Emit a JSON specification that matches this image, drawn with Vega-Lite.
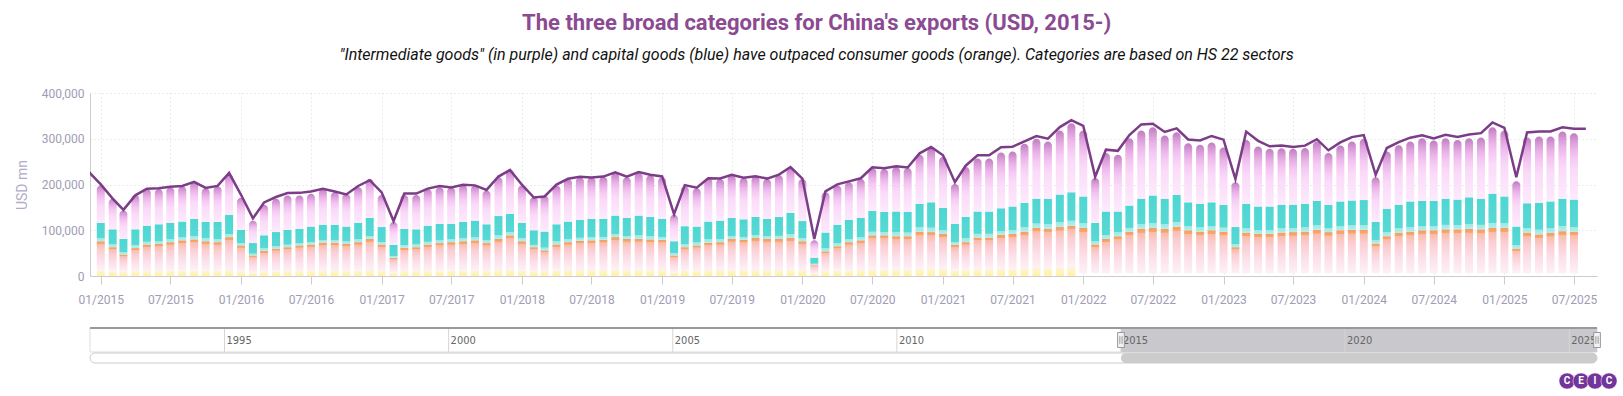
{
"$schema":"https://vega.github.io/schema/vega-lite/v6.json",
"padding":{"left":15,"top":12,"right":0,"bottom":0},
"bounds":"flush",
"spacing":52,
"title":{"text":"The three broad categories for China's exports (USD, 2015-)","subtitle":"\"Intermediate goods\" (in purple) and capital goods (blue) have outpaced consumer goods (orange). Categories are based on HS 22 sectors","anchor":"middle","font":"Roboto","fontSize":22,"fontWeight":"bold","color":"#8b4a92","subtitleFont":"Roboto","subtitleFontSize":16,"subtitleFontStyle":"italic","subtitleColor":"#111111","subtitlePadding":12,"offset":23},
"config":{"font":"Roboto","view":{"stroke":null}},
"datasets":{
"bars":[
{"d":"2015-01-01","other":0,"primary":12000,"consumer":64000,"capital":40000,"intermediate":82000},
{"d":"2015-02-01","other":0,"primary":10000,"consumer":53000,"capital":39000,"intermediate":67000},
{"d":"2015-03-01","other":0,"primary":9000,"consumer":38000,"capital":34000,"intermediate":62000},
{"d":"2015-04-01","other":0,"primary":11000,"consumer":50000,"capital":41000,"intermediate":75000},
{"d":"2015-05-01","other":0,"primary":11000,"consumer":58000,"capital":41000,"intermediate":80000},
{"d":"2015-06-01","other":0,"primary":11000,"consumer":59000,"capital":43000,"intermediate":77000},
{"d":"2015-07-01","other":0,"primary":12000,"consumer":62000,"capital":42000,"intermediate":78000},
{"d":"2015-08-01","other":0,"primary":12000,"consumer":66000,"capital":41000,"intermediate":77000},
{"d":"2015-09-01","other":0,"primary":12000,"consumer":68000,"capital":45000,"intermediate":80000},
{"d":"2015-10-01","other":0,"primary":12000,"consumer":64000,"capital":42000,"intermediate":74000},
{"d":"2015-11-01","other":0,"primary":12000,"consumer":62000,"capital":44000,"intermediate":78000},
{"d":"2015-12-01","other":0,"primary":13000,"consumer":72000,"capital":49000,"intermediate":89000},
{"d":"2016-01-01","other":0,"primary":10000,"consumer":57000,"capital":34000,"intermediate":70000},
{"d":"2016-02-01","other":0,"primary":7000,"consumer":38000,"capital":27000,"intermediate":49000},
{"d":"2016-03-01","other":0,"primary":9000,"consumer":46000,"capital":34000,"intermediate":67000},
{"d":"2016-04-01","other":0,"primary":10000,"consumer":50000,"capital":36000,"intermediate":73000},
{"d":"2016-05-01","other":0,"primary":11000,"consumer":52000,"capital":38000,"intermediate":75000},
{"d":"2016-06-01","other":0,"primary":11000,"consumer":56000,"capital":36000,"intermediate":73000},
{"d":"2016-07-01","other":0,"primary":11000,"consumer":58000,"capital":39000,"intermediate":72000},
{"d":"2016-08-01","other":0,"primary":11000,"consumer":62000,"capital":39000,"intermediate":78000},
{"d":"2016-09-01","other":0,"primary":11000,"consumer":62000,"capital":39000,"intermediate":71000},
{"d":"2016-10-01","other":0,"primary":11000,"consumer":59000,"capital":38000,"intermediate":72000},
{"d":"2016-11-01","other":0,"primary":12000,"consumer":62000,"capital":42000,"intermediate":78000},
{"d":"2016-12-01","other":0,"primary":13000,"consumer":68000,"capital":46000,"intermediate":85000},
{"d":"2017-01-01","other":0,"primary":11000,"consumer":58000,"capital":38000,"intermediate":70000},
{"d":"2017-02-01","other":0,"primary":7000,"consumer":33000,"capital":28000,"intermediate":50000},
{"d":"2017-03-01","other":0,"primary":11000,"consumer":51000,"capital":41000,"intermediate":74000},
{"d":"2017-04-01","other":0,"primary":11000,"consumer":52000,"capital":39000,"intermediate":75000},
{"d":"2017-05-01","other":0,"primary":11000,"consumer":58000,"capital":41000,"intermediate":80000},
{"d":"2017-06-01","other":0,"primary":12000,"consumer":60000,"capital":42000,"intermediate":80000},
{"d":"2017-07-01","other":0,"primary":12000,"consumer":62000,"capital":40000,"intermediate":80000},
{"d":"2017-08-01","other":0,"primary":12000,"consumer":64000,"capital":42000,"intermediate":81000},
{"d":"2017-09-01","other":0,"primary":12000,"consumer":66000,"capital":43000,"intermediate":77000},
{"d":"2017-10-01","other":0,"primary":11000,"consumer":61000,"capital":41000,"intermediate":74000},
{"d":"2017-11-01","other":0,"primary":13000,"consumer":68000,"capital":50000,"intermediate":85000},
{"d":"2017-12-01","other":0,"primary":14000,"consumer":75000,"capital":47000,"intermediate":96000},
{"d":"2018-01-01","other":0,"primary":12000,"consumer":64000,"capital":40000,"intermediate":82000},
{"d":"2018-02-01","other":0,"primary":10000,"consumer":53000,"capital":37000,"intermediate":72000},
{"d":"2018-03-01","other":0,"primary":11000,"consumer":45000,"capital":41000,"intermediate":79000},
{"d":"2018-04-01","other":0,"primary":12000,"consumer":57000,"capital":44000,"intermediate":85000},
{"d":"2018-05-01","other":0,"primary":13000,"consumer":61000,"capital":45000,"intermediate":93000},
{"d":"2018-06-01","other":0,"primary":13000,"consumer":64000,"capital":46000,"intermediate":93000},
{"d":"2018-07-01","other":0,"primary":13000,"consumer":65000,"capital":47000,"intermediate":91000},
{"d":"2018-08-01","other":0,"primary":13000,"consumer":66000,"capital":46000,"intermediate":92000},
{"d":"2018-09-01","other":0,"primary":14000,"consumer":71000,"capital":47000,"intermediate":93000},
{"d":"2018-10-01","other":0,"primary":13000,"consumer":68000,"capital":46000,"intermediate":89000},
{"d":"2018-11-01","other":0,"primary":14000,"consumer":67000,"capital":51000,"intermediate":93000},
{"d":"2018-12-01","other":0,"primary":13000,"consumer":67000,"capital":49000,"intermediate":91000},
{"d":"2019-01-01","other":0,"primary":13000,"consumer":66000,"capital":46000,"intermediate":91000},
{"d":"2019-02-01","other":0,"primary":8000,"consumer":37000,"capital":31000,"intermediate":58000},
{"d":"2019-03-01","other":0,"primary":12000,"consumer":51000,"capital":46000,"intermediate":87000},
{"d":"2019-04-01","other":0,"primary":12000,"consumer":55000,"capital":41000,"intermediate":84000},
{"d":"2019-05-01","other":0,"primary":13000,"consumer":60000,"capital":46000,"intermediate":95000},
{"d":"2019-06-01","other":0,"primary":13000,"consumer":61000,"capital":47000,"intermediate":91000},
{"d":"2019-07-01","other":0,"primary":13000,"consumer":68000,"capital":46000,"intermediate":93000},
{"d":"2019-08-01","other":0,"primary":13000,"consumer":66000,"capital":45000,"intermediate":90000},
{"d":"2019-09-01","other":0,"primary":13000,"consumer":70000,"capital":46000,"intermediate":89000},
{"d":"2019-10-01","other":0,"primary":13000,"consumer":68000,"capital":44000,"intermediate":87000},
{"d":"2019-11-01","other":0,"primary":13000,"consumer":68000,"capital":48000,"intermediate":91000},
{"d":"2019-12-01","other":0,"primary":14000,"consumer":69000,"capital":55000,"intermediate":100000},
{"d":"2020-01-01","other":0,"primary":13000,"consumer":63000,"capital":44000,"intermediate":92000},
{"d":"2020-02-01","other":0,"primary":5000,"consumer":20000,"capital":15000,"intermediate":38000},
{"d":"2020-03-01","other":0,"primary":11000,"consumer":43000,"capital":41000,"intermediate":88000},
{"d":"2020-04-01","other":0,"primary":12000,"consumer":53000,"capital":47000,"intermediate":86000},
{"d":"2020-05-01","other":0,"primary":12000,"consumer":62000,"capital":49000,"intermediate":82000},
{"d":"2020-06-01","other":0,"primary":13000,"consumer":65000,"capital":49000,"intermediate":85000},
{"d":"2020-07-01","other":0,"primary":14000,"consumer":75000,"capital":53000,"intermediate":94000},
{"d":"2020-08-01","other":0,"primary":14000,"consumer":75000,"capital":51000,"intermediate":94000},
{"d":"2020-09-01","other":0,"primary":14000,"consumer":73000,"capital":54000,"intermediate":97000},
{"d":"2020-10-01","other":0,"primary":14000,"consumer":73000,"capital":53000,"intermediate":96000},
{"d":"2020-11-01","other":0,"primary":16000,"consumer":81000,"capital":61000,"intermediate":107000},
{"d":"2020-12-01","other":0,"primary":17000,"consumer":79000,"capital":65000,"intermediate":117000},
{"d":"2021-01-01","other":0,"primary":16000,"consumer":76000,"capital":57000,"intermediate":111000},
{"d":"2021-02-01","other":0,"primary":12000,"consumer":56000,"capital":46000,"intermediate":87000},
{"d":"2021-03-01","other":0,"primary":14000,"consumer":60000,"capital":55000,"intermediate":109000},
{"d":"2021-04-01","other":0,"primary":15000,"consumer":69000,"capital":57000,"intermediate":116000},
{"d":"2021-05-01","other":0,"primary":15000,"consumer":69000,"capital":57000,"intermediate":116000},
{"d":"2021-06-01","other":0,"primary":16000,"consumer":74000,"capital":58000,"intermediate":122000},
{"d":"2021-07-01","other":0,"primary":16000,"consumer":76000,"capital":60000,"intermediate":120000},
{"d":"2021-08-01","other":0,"primary":17000,"consumer":80000,"capital":63000,"intermediate":129000},
{"d":"2021-09-01","other":0,"primary":18000,"consumer":87000,"capital":64000,"intermediate":131000},
{"d":"2021-10-01","other":0,"primary":18000,"consumer":85000,"capital":66000,"intermediate":125000},
{"d":"2021-11-01","other":0,"primary":19000,"consumer":88000,"capital":71000,"intermediate":140000},
{"d":"2021-12-01","other":0,"primary":20000,"consumer":90000,"capital":73000,"intermediate":151000},
{"d":"2022-01-01","other":6000,"primary":0,"consumer":99000,"capital":69000,"intermediate":144000},
{"d":"2022-02-01","other":6000,"primary":0,"consumer":63000,"capital":47000,"intermediate":98000},
{"d":"2022-03-01","other":6000,"primary":0,"consumer":75000,"capital":60000,"intermediate":128000},
{"d":"2022-04-01","other":6000,"primary":0,"consumer":81000,"capital":54000,"intermediate":124000},
{"d":"2022-05-01","other":6000,"primary":0,"consumer":91000,"capital":57000,"intermediate":147000},
{"d":"2022-06-01","other":6000,"primary":0,"consumer":97000,"capital":66000,"intermediate":149000},
{"d":"2022-07-01","other":6000,"primary":0,"consumer":99000,"capital":71000,"intermediate":149000},
{"d":"2022-08-01","other":6000,"primary":0,"consumer":97000,"capital":66000,"intermediate":138000},
{"d":"2022-09-01","other":6000,"primary":0,"consumer":102000,"capital":69000,"intermediate":137000},
{"d":"2022-10-01","other":6000,"primary":0,"consumer":94000,"capital":61000,"intermediate":129000},
{"d":"2022-11-01","other":6000,"primary":0,"consumer":91000,"capital":61000,"intermediate":129000},
{"d":"2022-12-01","other":6000,"primary":0,"consumer":94000,"capital":61000,"intermediate":131000},
{"d":"2023-01-01","other":6000,"primary":0,"consumer":91000,"capital":59000,"intermediate":125000},
{"d":"2023-02-01","other":6000,"primary":0,"consumer":57000,"capital":44000,"intermediate":98000},
{"d":"2023-03-01","other":6000,"primary":0,"consumer":89000,"capital":63000,"intermediate":139000},
{"d":"2023-04-01","other":6000,"primary":0,"consumer":86000,"capital":60000,"intermediate":131000},
{"d":"2023-05-01","other":6000,"primary":0,"consumer":86000,"capital":60000,"intermediate":126000},
{"d":"2023-06-01","other":6000,"primary":0,"consumer":89000,"capital":61000,"intermediate":123000},
{"d":"2023-07-01","other":6000,"primary":0,"consumer":90000,"capital":60000,"intermediate":122000},
{"d":"2023-08-01","other":6000,"primary":0,"consumer":91000,"capital":61000,"intermediate":122000},
{"d":"2023-09-01","other":6000,"primary":0,"consumer":95000,"capital":63000,"intermediate":130000},
{"d":"2023-10-01","other":6000,"primary":0,"consumer":90000,"capital":60000,"intermediate":113000},
{"d":"2023-11-01","other":6000,"primary":0,"consumer":94000,"capital":63000,"intermediate":122000},
{"d":"2023-12-01","other":6000,"primary":0,"consumer":95000,"capital":64000,"intermediate":129000},
{"d":"2024-01-01","other":6000,"primary":0,"consumer":95000,"capital":65000,"intermediate":134000},
{"d":"2024-02-01","other":6000,"primary":0,"consumer":65000,"capital":47000,"intermediate":98000},
{"d":"2024-03-01","other":6000,"primary":0,"consumer":81000,"capital":60000,"intermediate":125000},
{"d":"2024-04-01","other":6000,"primary":0,"consumer":89000,"capital":61000,"intermediate":130000},
{"d":"2024-05-01","other":6000,"primary":0,"consumer":91000,"capital":66000,"intermediate":131000},
{"d":"2024-06-01","other":6000,"primary":0,"consumer":94000,"capital":64000,"intermediate":137000},
{"d":"2024-07-01","other":6000,"primary":0,"consumer":94000,"capital":64000,"intermediate":132000},
{"d":"2024-08-01","other":6000,"primary":0,"consumer":96000,"capital":67000,"intermediate":132000},
{"d":"2024-09-01","other":6000,"primary":0,"consumer":96000,"capital":65000,"intermediate":130000},
{"d":"2024-10-01","other":6000,"primary":0,"consumer":97000,"capital":69000,"intermediate":129000},
{"d":"2024-11-01","other":6000,"primary":0,"consumer":96000,"capital":67000,"intermediate":134000},
{"d":"2024-12-01","other":6000,"primary":0,"consumer":99000,"capital":75000,"intermediate":145000},
{"d":"2025-01-01","other":6000,"primary":0,"consumer":99000,"capital":69000,"intermediate":144000},
{"d":"2025-02-01","other":6000,"primary":0,"consumer":54000,"capital":48000,"intermediate":99000},
{"d":"2025-03-01","other":6000,"primary":0,"consumer":89000,"capital":64000,"intermediate":144000},
{"d":"2025-04-01","other":6000,"primary":0,"consumer":85000,"capital":69000,"intermediate":145000},
{"d":"2025-05-01","other":6000,"primary":0,"consumer":88000,"capital":69000,"intermediate":142000},
{"d":"2025-06-01","other":6000,"primary":0,"consumer":92000,"capital":71000,"intermediate":147000},
{"d":"2025-07-01","other":6000,"primary":0,"consumer":91000,"capital":70000,"intermediate":145000}
],
"total":[
{"d":"2014-12-01","v":227500},
{"d":"2015-01-01","v":200300},{"d":"2015-02-01","v":169200},{"d":"2015-03-01","v":144600},{"d":"2015-04-01","v":176300},{"d":"2015-05-01","v":190800},{"d":"2015-06-01","v":192000},{"d":"2015-07-01","v":195100},{"d":"2015-08-01","v":196800},{"d":"2015-09-01","v":205600},{"d":"2015-10-01","v":192400},{"d":"2015-11-01","v":196900},{"d":"2015-12-01","v":225500},
{"d":"2016-01-01","v":177500},{"d":"2016-02-01","v":126000},{"d":"2016-03-01","v":160800},{"d":"2016-04-01","v":172600},{"d":"2016-05-01","v":181200},{"d":"2016-06-01","v":181700},{"d":"2016-07-01","v":184700},{"d":"2016-08-01","v":190600},{"d":"2016-09-01","v":184500},{"d":"2016-10-01","v":178200},{"d":"2016-11-01","v":196800},{"d":"2016-12-01","v":209400},
{"d":"2017-01-01","v":182800},{"d":"2017-02-01","v":120100},{"d":"2017-03-01","v":180200},{"d":"2017-04-01","v":180200},{"d":"2017-05-01","v":191000},{"d":"2017-06-01","v":196600},{"d":"2017-07-01","v":193600},{"d":"2017-08-01","v":199300},{"d":"2017-09-01","v":198100},{"d":"2017-10-01","v":188200},{"d":"2017-11-01","v":217400},{"d":"2017-12-01","v":231800},
{"d":"2018-01-01","v":199600},{"d":"2018-02-01","v":171600},{"d":"2018-03-01","v":173900},{"d":"2018-04-01","v":199800},{"d":"2018-05-01","v":212400},{"d":"2018-06-01","v":216700},{"d":"2018-07-01","v":215300},{"d":"2018-08-01","v":217300},{"d":"2018-09-01","v":226700},{"d":"2018-10-01","v":217300},{"d":"2018-11-01","v":227300},{"d":"2018-12-01","v":221300},
{"d":"2019-01-01","v":217600},{"d":"2019-02-01","v":135200},{"d":"2019-03-01","v":198700},{"d":"2019-04-01","v":193000},{"d":"2019-05-01","v":213800},{"d":"2019-06-01","v":213100},{"d":"2019-07-01","v":221200},{"d":"2019-08-01","v":214800},{"d":"2019-09-01","v":218000},{"d":"2019-10-01","v":212900},{"d":"2019-11-01","v":221700},{"d":"2019-12-01","v":238100},
{"d":"2020-01-01","v":213000},{"d":"2020-02-01","v":81000},{"d":"2020-03-01","v":185100},{"d":"2020-04-01","v":200300},{"d":"2020-05-01","v":206800},{"d":"2020-06-01","v":213600},{"d":"2020-07-01","v":237600},{"d":"2020-08-01","v":235300},{"d":"2020-09-01","v":239800},{"d":"2020-10-01","v":237200},{"d":"2020-11-01","v":268100},{"d":"2020-12-01","v":281900},
{"d":"2021-01-01","v":264000},{"d":"2021-02-01","v":205000},{"d":"2021-03-01","v":241100},{"d":"2021-04-01","v":263900},{"d":"2021-05-01","v":263900},{"d":"2021-06-01","v":281400},{"d":"2021-07-01","v":282700},{"d":"2021-08-01","v":294300},{"d":"2021-09-01","v":305700},{"d":"2021-10-01","v":300200},{"d":"2021-11-01","v":325500},{"d":"2021-12-01","v":340500},
{"d":"2022-01-01","v":328000},{"d":"2022-02-01","v":217000},{"d":"2022-03-01","v":276100},{"d":"2022-04-01","v":273600},{"d":"2022-05-01","v":308200},{"d":"2022-06-01","v":331300},{"d":"2022-07-01","v":333000},{"d":"2022-08-01","v":314900},{"d":"2022-09-01","v":322800},{"d":"2022-10-01","v":298400},{"d":"2022-11-01","v":296100},{"d":"2022-12-01","v":306100},
{"d":"2023-01-01","v":298000},{"d":"2023-02-01","v":212000},{"d":"2023-03-01","v":315600},{"d":"2023-04-01","v":295400},{"d":"2023-05-01","v":283500},{"d":"2023-06-01","v":285300},{"d":"2023-07-01","v":281800},{"d":"2023-08-01","v":284900},{"d":"2023-09-01","v":299100},{"d":"2023-10-01","v":274800},{"d":"2023-11-01","v":291900},{"d":"2023-12-01","v":303600},
{"d":"2024-01-01","v":308000},{"d":"2024-02-01","v":221000},{"d":"2024-03-01","v":279700},{"d":"2024-04-01","v":292500},{"d":"2024-05-01","v":302400},{"d":"2024-06-01","v":307800},{"d":"2024-07-01","v":300600},{"d":"2024-08-01","v":308600},{"d":"2024-09-01","v":303700},{"d":"2024-10-01","v":309100},{"d":"2024-11-01","v":312300},{"d":"2024-12-01","v":335600},
{"d":"2025-01-01","v":324000},{"d":"2025-02-01","v":216000},{"d":"2025-03-01","v":313900},{"d":"2025-04-01","v":315700},{"d":"2025-05-01","v":316100},{"d":"2025-06-01","v":325200},{"d":"2025-07-01","v":321800},{"d":"2025-08-01","v":321800}
],
"range":[{"start":"2015-01-01","end":"2025-08-15"}],
"track":[{"start":"1992-01-01","end":"2025-08-15"}],
"years":[{"d":"1995-01-01","label":"1995"},{"d":"2000-01-01","label":"2000"},{"d":"2005-01-01","label":"2005"},{"d":"2010-01-01","label":"2010"},{"d":"2015-01-01","label":"2015"},{"d":"2020-01-01","label":"2020"},{"d":"2025-01-01","label":"2025"}],
"logo":[{"n":1,"t":"C"},{"n":2,"t":"E"},{"n":3,"t":"I"},{"n":4,"t":"C"}]
},
"resolve":{"scale":{"x":"independent","y":"independent"}},
"vconcat":[
{
"width":1507,"height":183,
"layer":[
{"data":{"name":"bars"},
"transform":[{"fold":["other","primary","consumer","capital","intermediate"],"as":["cat","v"]},{"stack":"v","groupby":["d"],"as":["v0","v1"]},{"filter":"datum.cat === 'primary'"}],
"mark":{"type":"bar","width":8,"color":{"gradient":"linear","x1":0,"y1":1,"x2":0,"y2":0,"stops":[{"offset":0,"color":"#fff2a6"},{"offset":1,"color":"#fef3d8"}]}},
"encoding":{
"x":{"field":"d","type":"temporal","scale":{"type":"utc","domain":[{"year":2014,"month":12,"date":17,"utc":true},{"year":2025,"month":8,"date":17,"utc":true}]},"axis":{"format":"%m/%Y","tickCount":{"interval":"month","step":6},"labelColor":"#a09cb4","labelFontSize":12,"labelFont":"Roboto","labelPadding":10,"labelFlush":false,"tickColor":"#cccccc","tickSize":8,"domainColor":"#cccccc","gridColor":"#d9d9d9","gridDash":[1,3],"title":null}},
"y":{"field":"v0","type":"quantitative","scale":{"domain":[0,400000],"nice":false},"axis":{"values":[0,100000,200000,300000,400000],"format":",d","title":"USD mn","titleColor":"#b1acc6","titleFont":"Roboto","titleFontSize":14,"titleFontWeight":"normal","titlePadding":12,"labelColor":"#a09cb4","labelFont":"Roboto","labelFontSize":12,"labelPadding":6,"ticks":false,"domainColor":"#cccccc","gridColor":"#d9d9d9","gridDash":[1,3]}},
"y2":{"field":"v1"}}},
{"data":{"name":"bars"},
"transform":[{"fold":["other","primary","consumer","capital","intermediate"],"as":["cat","v"]},{"stack":"v","groupby":["d"],"as":["v0","v1"]},{"filter":"datum.cat === 'consumer'"}],
"mark":{"type":"bar","width":8,"color":{"gradient":"linear","x1":0,"y1":1,"x2":0,"y2":0,"stops":[{"offset":0,"color":"#fdf1f6"},{"offset":0.35,"color":"#fce0ea"},{"offset":0.7,"color":"#fbcdd2"},{"offset":0.91,"color":"#f9bcaa"},{"offset":0.92,"color":"#f7a66f"},{"offset":1,"color":"#f59e62"}]}},
"encoding":{"x":{"field":"d","type":"temporal"},"y":{"field":"v0","type":"quantitative"},"y2":{"field":"v1"}}},
{"data":{"name":"bars"},
"transform":[{"fold":["other","primary","consumer","capital","intermediate"],"as":["cat","v"]},{"stack":"v","groupby":["d"],"as":["v0","v1"]},{"filter":"datum.cat === 'capital'"}],
"mark":{"type":"bar","width":8,"color":{"gradient":"linear","x1":0,"y1":1,"x2":0,"y2":0,"stops":[{"offset":0,"color":"#b0eeeb"},{"offset":0.15,"color":"#9de9e5"},{"offset":0.16,"color":"#58d9d5"},{"offset":1,"color":"#4fd6d2"}]}},
"encoding":{"x":{"field":"d","type":"temporal"},"y":{"field":"v0","type":"quantitative"},"y2":{"field":"v1"}}},
{"data":{"name":"bars"},
"transform":[{"fold":["other","primary","consumer","capital","intermediate"],"as":["cat","v"]},{"stack":"v","groupby":["d"],"as":["v0","v1"]},{"filter":"datum.cat === 'intermediate'"}],
"mark":{"type":"bar","width":8,"cornerRadiusTopLeft":4,"cornerRadiusTopRight":4,"color":{"gradient":"linear","x1":0,"y1":1,"x2":0,"y2":0,"stops":[{"offset":0,"color":"#fdeafc"},{"offset":0.45,"color":"#fadaf8"},{"offset":0.62,"color":"#f5c9f3"},{"offset":0.76,"color":"#ebb4e9"},{"offset":0.88,"color":"#d99bd8"},{"offset":1,"color":"#c07cc0"}]}},
"encoding":{"x":{"field":"d","type":"temporal"},"y":{"field":"v0","type":"quantitative"},"y2":{"field":"v1"}}},
{"data":{"name":"total"},
"mark":{"type":"line","color":"#7b3d87","strokeWidth":2.5,"clip":true},
"encoding":{"x":{"field":"d","type":"temporal"},"y":{"field":"v","type":"quantitative"}}},
{"mark":{"type":"rule","color":"#cccccc","strokeWidth":1},
"encoding":{"x":{"datum":{"year":2025,"month":8,"date":17,"utc":true},"type":"temporal"}}}
]
},
{
"width":1507,"height":70,
"resolve":{"scale":{"x":"independent"}},
"layer":[
{
"layer":[
{"data":{"name":"track"},"mark":{"type":"rect","fill":"#ffffff","stroke":"#dddddd"},
"encoding":{"x":{"field":"start","type":"temporal","scale":{"type":"utc","domain":[{"year":1992,"month":1,"date":1,"utc":true},{"year":2025,"month":8,"date":15,"utc":true}]},"axis":null},"x2":{"field":"end"},
"y":{"datum":0,"type":"quantitative","scale":{"domain":[0,70],"reverse":true,"nice":false,"zero":false},"axis":null},"y2":{"datum":24}}},
{"data":{"name":"range"},"mark":{"type":"rect","fill":"#c9c8cd"},
"encoding":{"x":{"field":"start","type":"temporal"},"x2":{"field":"end"},"y":{"datum":0,"type":"quantitative"},"y2":{"datum":24}}},
{"data":{"name":"years"},"mark":{"type":"rule","color":"#d6d6d6","strokeWidth":1},
"encoding":{"x":{"field":"d","type":"temporal"},"y":{"datum":0,"type":"quantitative"},"y2":{"datum":24}}},
{"data":{"name":"years"},"mark":{"type":"text","align":"left","baseline":"middle","dx":2,"font":"Liberation Sans Narrow, DejaVu Sans Condensed, Liberation Sans, sans-serif","fontSize":11,"color":"#666666"},
"encoding":{"x":{"field":"d","type":"temporal"},"y":{"datum":13,"type":"quantitative"},"text":{"field":"label"}}},
{"data":{"name":"track"},"mark":{"type":"rule","color":"#999999","strokeWidth":2},
"encoding":{"x":{"field":"start","type":"temporal"},"x2":{"field":"end"},"y":{"datum":0,"type":"quantitative"}}},
{"data":{"name":"track"},"mark":{"type":"rect","fill":"#ffffff","stroke":"#cccccc","cornerRadius":5},
"encoding":{"x":{"field":"start","type":"temporal"},"x2":{"field":"end"},"y":{"datum":25,"type":"quantitative"},"y2":{"datum":35}}},
{"data":{"name":"range"},"mark":{"type":"rect","fill":"#cccccc","cornerRadius":5},
"encoding":{"x":{"field":"start","type":"temporal"},"x2":{"field":"end"},"y":{"datum":25,"type":"quantitative"},"y2":{"datum":35}}},
{"data":{"name":"range"},"mark":{"type":"point","shape":"M-0.45,-1H0.45V1H-0.45Z M-0.15,-0.5V0.5 M0.15,-0.5V0.5","size":225,"filled":true,"fill":"#f2f2f2","stroke":"#999999","strokeWidth":1,"opacity":1},
"encoding":{"x":{"field":"start","type":"temporal"},"y":{"datum":12,"type":"quantitative"}}},
{"data":{"name":"range"},"mark":{"type":"point","shape":"M-0.45,-1H0.45V1H-0.45Z M-0.15,-0.5V0.5 M0.15,-0.5V0.5","size":225,"filled":true,"fill":"#f2f2f2","stroke":"#999999","strokeWidth":1,"opacity":1},
"encoding":{"x":{"field":"end","type":"temporal"},"y":{"datum":12,"type":"quantitative"}}}
]
},
{
"data":{"name":"logo"},
"layer":[
{"mark":{"type":"circle","size":260,"color":"#74359a","opacity":1,"stroke":"#ffffff","strokeWidth":0.5},
"encoding":{"x":{"field":"n","type":"quantitative","scale":{"domain":[-104.5,3.14],"nice":false,"zero":false},"axis":null},"y":{"datum":53,"type":"quantitative"}}},
{"mark":{"type":"text","color":"#ffffff","fontSize":10,"fontWeight":"bold","font":"Roboto","baseline":"middle"},
"encoding":{"x":{"field":"n","type":"quantitative"},"y":{"datum":53,"type":"quantitative"},"text":{"field":"t"}}}
]
}
]
}
]
}
